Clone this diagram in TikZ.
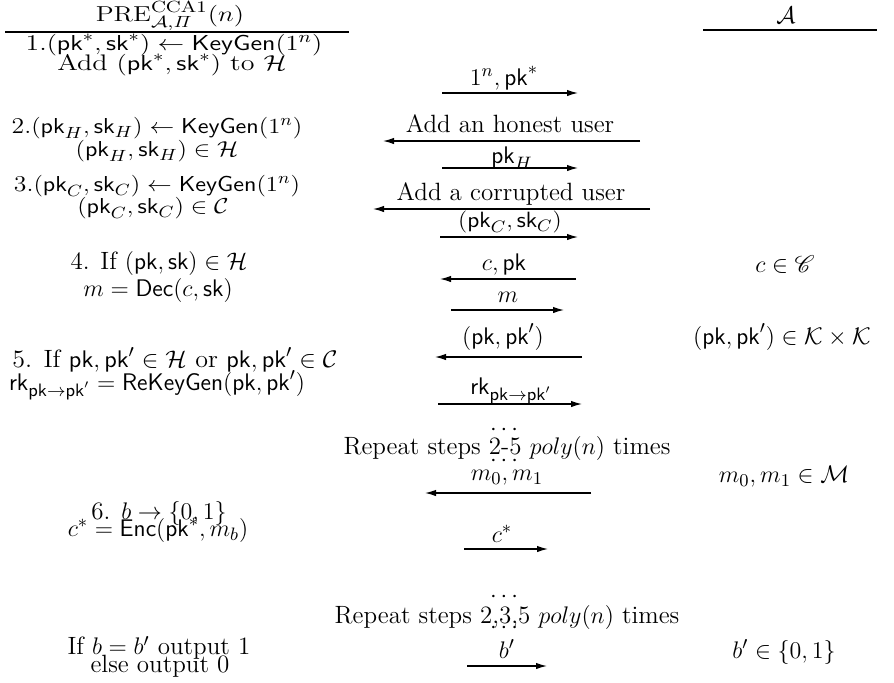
\documentclass[tikz,border=0pt]{standalone}
\usepackage{amsmath,amssymb,mathrsfs}
\usetikzlibrary{arrows.meta}
\newcommand{\sq}[3]{\scalebox{#1}[#2]{#3}}
\begin{document}
\begin{tikzpicture}[x=0.5pt,y=-0.5pt,
  txt/.style={inner sep=0pt, font=\fontsize{12.5}{14}\selectfont},
  msg/.style={line width=0.6pt, -{Latex[length=5.5pt,width=3.2pt]}},
  hrule/.style={line width=0.6pt}]
\useasboundingbox (0,0) rectangle (894,682);
% headers
\node[txt] (hl) at (170,16) {\sq{1.12}{0.9}{$\mathrm{PRE}^{\mathrm{CCA1}}_{\mathcal{A},\mathit{\Pi}}(n)$}};
\node[txt] (hr) at (786,15) {$\mathcal{A}$};
\coordinate (hlA) at (5,32); \coordinate (hlB) at (349,32);
\coordinate (hrA) at (703,30); \coordinate (hrB) at (877,30);
\draw[hrule] (hlA) -- (hlB);
\draw[hrule] (hrA) -- (hrB);
% left column
\node[txt] (l1a) at (174,45) {\sq{1.11}{0.9}{1.$(\mathsf{pk}^*,\mathsf{sk}^*)\leftarrow\mathsf{KeyGen}(1^n)$}};
\node[txt] (l1b) at (172,65) {\sq{1.12}{0.9}{Add $(\mathsf{pk}^*,\mathsf{sk}^*)$ to $\mathcal{H}$}};
\node[txt] (l2a) at (157,128) {\sq{1.03}{0.9}{2.$(\mathsf{pk}_H,\mathsf{sk}_H)\leftarrow\mathsf{KeyGen}(1^n)$}};
\node[txt] (l2b) at (157,151) {\sq{1.03}{0.9}{$(\mathsf{pk}_H,\mathsf{sk}_H)\in\mathcal{H}$}};
\node[txt] (l3a) at (157,186) {\sq{1.03}{0.9}{3.$(\mathsf{pk}_C,\mathsf{sk}_C)\leftarrow\mathsf{KeyGen}(1^n)$}};
\node[txt] (l3b) at (153,208) {\sq{1.03}{0.9}{$(\mathsf{pk}_C,\mathsf{sk}_C)\in\mathcal{C}$}};
\node[txt] (l4a) at (159,263) {4. If $(\mathsf{pk},\mathsf{sk})\in\mathcal{H}$};
\node[txt] (l4b) at (158,290) {$m=\mathsf{Dec}(c,\mathsf{sk})$};
\node[txt] (l5a) at (175,360) {\sq{1.04}{1}{5. If $\mathsf{pk},\mathsf{pk}'\in\mathcal{H}$ or $\mathsf{pk},\mathsf{pk}'\in\mathcal{C}$}};
\node[txt] (l5b) at (157,385) {$\mathsf{rk}_{\mathsf{pk}\rightarrow\mathsf{pk}'}=\mathsf{ReKeyGen}(\mathsf{pk},\mathsf{pk}')$};
\node[txt] (l6a) at (159,513) {6. $b\rightarrow\{0,1\}$};
\node[txt] (l6b) at (158,530) {$c^*=\mathsf{Enc}(\mathsf{pk}^*,m_b)$};
\node[txt] (l7a) at (159,648) {If $b=b'$ output 1};
\node[txt] (l7b) at (160,666) {else output 0};
% right column
\node[txt] (r4) at (785,265) {$c\in\mathscr{C}$};
\node[txt] (r5) at (782,337) {$(\mathsf{pk},\mathsf{pk}')\in\mathcal{K}\times\mathcal{K}$};
\node[txt] (r6) at (784,477) {$m_0,m_1\in\mathcal{M}$};
\node[txt] (r7) at (784,652) {$b'\in\{0,1\}$};
% messages
\node[txt] (m1) at (504,78) {$1^n,\mathsf{pk}^*$};
\coordinate (a1s) at (442,93); \coordinate (a1e) at (578,93);
\draw[msg] (a1s) -- (a1e);
\node[txt] (m2) at (510,124) {Add an honest user};
\coordinate (a2s) at (640,141); \coordinate (a2e) at (383,141);
\draw[msg] (a2s) -- (a2e);
\node[txt] (m3) at (512,158) {$\mathsf{pk}_H$};
\coordinate (a3s) at (442,168); \coordinate (a3e) at (578,168);
\draw[msg] (a3s) -- (a3e);
\node[txt] (m4) at (511,194) {Add a corrupted user};
\coordinate (a4s) at (650,209); \coordinate (a4e) at (373,209);
\draw[msg] (a4s) -- (a4e);
\node[txt] (m5) at (510,222) {\sq{1}{0.92}{$(\mathsf{pk}_C,\mathsf{sk}_C)$}};
\coordinate (a5s) at (440,237); \coordinate (a5e) at (578,237);
\draw[msg] (a5s) -- (a5e);
\node[txt] (m6) at (504,264) {$c,\mathsf{pk}$};
\coordinate (a6s) at (576,279); \coordinate (a6e) at (440,279);
\draw[msg] (a6s) -- (a6e);
\node[txt] (m7) at (508,297) {$m$};
\coordinate (a7s) at (451,310); \coordinate (a7e) at (564,310);
\draw[msg] (a7s) -- (a7e);
\node[txt] (m8) at (503,337) {$(\mathsf{pk},\mathsf{pk}')$};
\coordinate (a8s) at (582,357); \coordinate (a8e) at (435,357);
\draw[msg] (a8s) -- (a8e);
\node[txt] (m9) at (511,391) {$\mathsf{rk}_{\mathsf{pk}\rightarrow\mathsf{pk}'}$};
\coordinate (a9s) at (438,404); \coordinate (a9e) at (582,404);
\draw[msg] (a9s) -- (a9e);
\node[txt] (d1) at (506,430) {$\cdots$};
\node[txt] (rep1) at (507,448) {Repeat steps 2-5 $poly(n)$ times};
\node[txt] (d2) at (506,461) {$\cdots$};
\node[txt] (m10) at (507,478) {$m_0,m_1$};
\coordinate (a10s) at (591,493); \coordinate (a10e) at (425,493);
\draw[msg] (a10s) -- (a10e);
\node[txt] (m11) at (502,534) {$c^*$};
\coordinate (a11s) at (464,549); \coordinate (a11e) at (548,549);
\draw[msg] (a11s) -- (a11e);
\node[txt] (d3) at (506,597) {$\cdots$};
\node[txt] (rep2) at (507,617) {Repeat steps 2,3,5 $poly(n)$ times};
\node[txt] (d4) at (506,628) {$\cdots$};
\node[txt] (m12) at (507,649) {$b'$};
\coordinate (a12s) at (467,666); \coordinate (a12e) at (547,666);
\draw[msg] (a12s) -- (a12e);
\end{tikzpicture}
\end{document}
